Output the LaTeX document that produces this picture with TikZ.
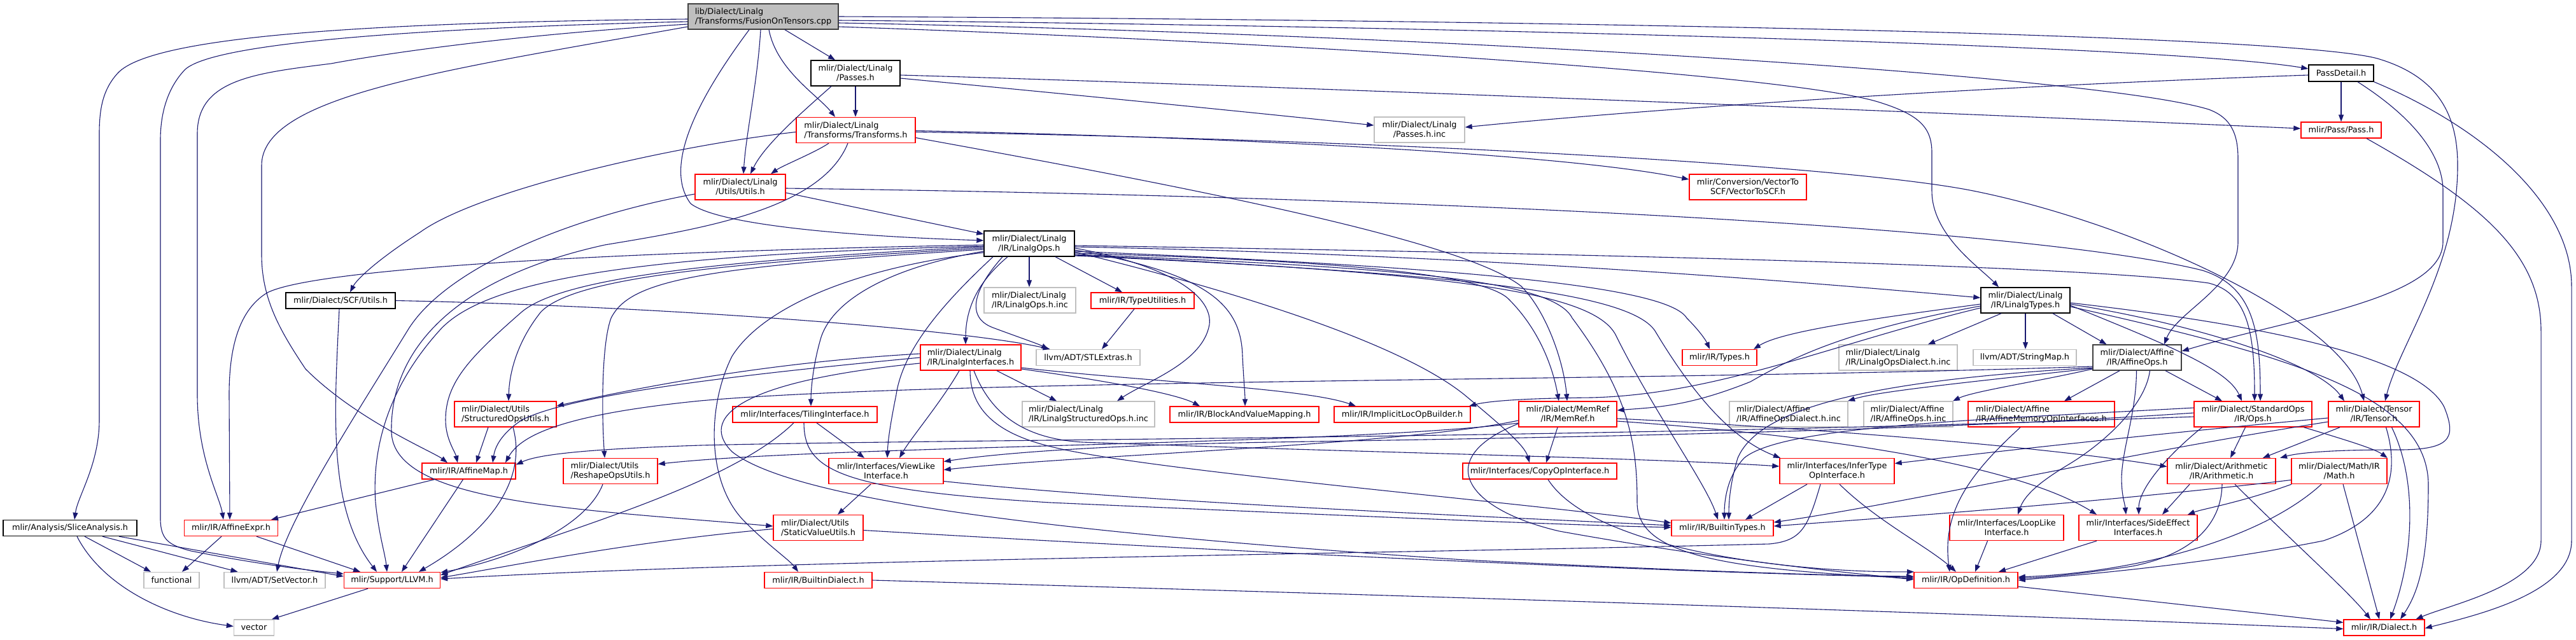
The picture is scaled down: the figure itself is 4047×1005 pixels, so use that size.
\documentclass[tikz,border=0pt]{standalone}
\usepackage{fontspec}
\setmainfont{DejaVu Sans}
\usetikzlibrary{arrows.meta}
\definecolor{edgecol}{HTML}{191970}
\definecolor{extgray}{HTML}{BFBFBF}
\definecolor{rootfill}{HTML}{BFBFBF}
\definecolor{darkbd}{HTML}{404040}
\definecolor{redbd}{HTML}{FF0000}
\newcommand\dv[5]{\draw[e] ([xshift=#2pt]#1.south) .. controls #3 .. ([xshift=#5pt]#4.north);}
\newcommand\ds[4]{\draw[e] ([xshift=#2pt]#1.south) -- ([xshift=#4pt]#3.north);}
\begin{document}
\begin{tikzpicture}[x=1pt,y=-1pt,
  every node/.style={font=\fontsize{12.85}{15}\selectfont, inner sep=0pt, align=center, fill=white, text=black},
  nb/.style={draw=black, line width=1.4pt},
  db/.style={draw=darkbd, line width=1.4pt},
  rb/.style={draw=redbd, line width=1.4pt},
  gb/.style={draw=extgray, line width=1.4pt},
  one/.style={minimum height=25pt},
  two/.style={minimum height=40pt},
  e/.style={draw=edgecol, line width=1.1pt, -{Triangle[length=11pt,width=8pt]}}]
\useasboundingbox (0,0) rectangle (4047,1005);
\fill[white] (0,0) rectangle (4047,1005);

% ---------------- nodes ----------------
\node[db, fill=rootfill, two, minimum width=236pt, align=left] (root) at (1199,26) {lib/Dialect/Linalg\\/Transforms/FusionOnTensors.cpp};
\node[nb, two, minimum width=140pt] (passes) at (1344,115) {mlir/Dialect/Linalg\\/Passes.h};
\node[rb, two, minimum width=187pt, align=left] (transforms) at (1344.5,204.5) {mlir/Dialect/Linalg\\/Transforms/Transforms.h};
\node[rb, two, minimum width=142pt] (lutils) at (1163,294) {mlir/Dialect/Linalg\\/Utils/Utils.h};
\node[nb, two, minimum width=142pt] (linalgops) at (1617,383) {mlir/Dialect/Linalg\\/IR/LinalgOps.h};
\node[gb, two, minimum width=144pt, align=left] (opsinc) at (1618,472) {mlir/Dialect/Linalg\\/IR/LinalgOps.h.inc};
\node[rb, one, minimum width=162pt] (typeutil) at (1795,472.5) {mlir/IR/TypeUtilities.h};
\node[nb, one, minimum width=172pt] (scfutils) at (535,472.5) {mlir/Dialect/SCF/Utils.h};
\node[gb, two, minimum width=142pt] (passesinc) at (2230,204) {mlir/Dialect/Linalg\\/Passes.h.inc};
\node[rb, two, minimum width=184pt] (vectortoscf) at (2746,294) {mlir/Conversion/VectorTo\\SCF/VectorToSCF.h};
\node[nb, one, minimum width=102pt, minimum height=26pt] (passdetail) at (3678,115) {PassDetail.h};
\node[rb, one, minimum width=126pt] (pass) at (3678,204.5) {mlir/Pass/Pass.h};
\node[nb, two, minimum width=140pt] (linalgtypes) at (3182,472) {mlir/Dialect/Linalg\\/IR/LinalgTypes.h};
\node[rb, two, minimum width=160pt, align=left] (structured) at (794,651) {mlir/Dialect/Utils\\/StructuredOpsUtils.h};
\node[rb, one, minimum width=147pt] (affinemap) at (736.5,740.5) {mlir/IR/AffineMap.h};
\node[rb, two, minimum width=148pt, align=left] (reshape) at (959,740.5) {mlir/Dialect/Utils\\/ReshapeOpsUtils.h};
\node[nb, one, minimum width=210pt] (slice) at (110,830) {mlir/Analysis/SliceAnalysis.h};
\node[rb, one, minimum width=147pt] (affineexpr) at (363,830) {mlir/IR/AffineExpr.h};
\node[gb, one, minimum width=87pt] (functional) at (269.5,912) {functional};
\node[gb, one, minimum width=159pt] (setvector) at (431.5,912) {llvm/ADT/SetVector.h};
\node[rb, one, minimum width=151pt] (llvm) at (616,912) {mlir/Support/LLVM.h};
\node[gb, one, minimum width=63pt] (vector) at (399,986.5) {vector};
\node[rb, two, minimum width=158pt, align=left] (li) at (1525,562) {mlir/Dialect/Linalg\\/IR/LinalgInterfaces.h};
\node[gb, one, minimum width=163pt] (stlextras) at (1709.5,562) {llvm/ADT/STLExtras.h};
\node[rb, one, minimum width=227pt] (tiling) at (1264.5,651.5) {mlir/Interfaces/TilingInterface.h};
\node[gb, two, minimum width=208pt, align=left] (structuredinc) at (1710,651) {mlir/Dialect/Linalg\\/IR/LinalgStructuredOps.h.inc};
\node[rb, one, minimum width=234pt] (bvm) at (1955,651.5) {mlir/IR/BlockAndValueMapping.h};
\node[rb, two, minimum width=180pt] (viewlike) at (1392,740.5) {mlir/Interfaces/ViewLike\\Interface.h};
\node[rb, two, minimum width=141pt, align=left] (staticvalue) at (1285.5,829.5) {mlir/Dialect/Utils\\/StaticValueUtils.h};
\node[rb, one, minimum width=169pt] (builtindialect) at (1285.5,912) {mlir/IR/BuiltinDialect.h};
\node[rb, one, minimum width=214pt] (implicitloc) at (2203,651.5) {mlir/IR/ImplicitLocOpBuilder.h};
\node[rb, two, minimum width=154pt] (memref) at (2463,651) {mlir/Dialect/MemRef\\/IR/MemRef.h};
\node[rb, one, minimum width=117pt] (types) at (2701.5,562) {mlir/IR/Types.h};
\node[gb, two, minimum width=186pt, align=left] (opsdialectinc) at (2982,562) {mlir/Dialect/Linalg\\/IR/LinalgOpsDialect.h.inc};
\node[gb, two, minimum width=186pt, align=left] (affopsdialectinc) at (2810,651) {mlir/Dialect/Affine\\/IR/AffineOpsDialect.h.inc};
\node[gb, two, minimum width=140pt, align=left] (affopsinc) at (2998,651) {mlir/Dialect/Affine\\/IR/AffineOps.h.inc};
\node[rb, one, minimum width=242pt] (copyop) at (2419,740.5) {mlir/Interfaces/CopyOpInterface.h};
\node[rb, two, minimum width=180pt] (infertype) at (2886,740.5) {mlir/Interfaces/InferType\\OpInterface.h};
\node[rb, one, minimum width=160pt] (builtintypes) at (2706,830) {mlir/IR/BuiltinTypes.h};
\node[rb, one, minimum width=163pt] (opdef) at (3088.5,912) {mlir/IR/OpDefinition.h};
\node[gb, one, minimum width=162pt] (stringmap) at (3181,562) {llvm/ADT/StringMap.h};
\node[db, two, minimum width=139pt] (affineops) at (3357.5,562) {mlir/Dialect/Affine\\/IR/AffineOps.h};
\node[rb, two, minimum width=230pt, align=left] (affmemop) at (3207,651) {mlir/Dialect/Affine\\/IR/AffineMemoryOpInterfaces.h};
\node[rb, two, minimum width=185pt] (stdops) at (3539.5,651) {mlir/Dialect/StandardOps\\/IR/Ops.h};
\node[rb, two, minimum width=143pt] (tensor) at (3729.5,651) {mlir/Dialect/Tensor\\/IR/Tensor.h};
\node[rb, two, minimum width=170pt] (arith) at (3490,740.5) {mlir/Dialect/Arithmetic\\/IR/Arithmetic.h};
\node[rb, two, minimum width=150pt] (math) at (3675,740.5) {mlir/Dialect/Math/IR\\/Math.h};
\node[rb, two, minimum width=179pt] (looplike) at (3152.5,829.5) {mlir/Interfaces/LoopLike\\Interface.h};
\node[rb, two, minimum width=186pt] (sideeffect) at (3359,829.5) {mlir/Interfaces/SideEffect\\Interfaces.h};
\node[rb, one, minimum width=127pt] (dialect) at (3745.5,986.5) {mlir/IR/Dialect.h};

% ---------------- edges ----------------
% root
\ds{root}{34}{passes}{-32}
\dv{root}{9}{(1220,110) and (1285,150)}{transforms}{-32.5}
\dv{root}{-4}{(1190,130) and (1172,210)}{lutils}{5}
\draw[e] ([xshift=-22pt]root.south) .. controls (1100,150) and (1040,260) .. (1085,320) .. controls (1130,355) and (1350,372) .. ([yshift=5pt]linalgops.west);
\draw[e] ([yshift=-4pt]root.west) .. controls (600,35) and (240,55) .. (185,115) .. controls (162,140) and (156,170) .. (156,210) -- (156,660) .. controls (156,730) and (122,780) .. ([xshift=7pt]slice.north);
\draw[e] ([yshift=-8pt]root.west) .. controls (620,45) and (330,70) .. (290,110) .. controls (262,140) and (252,180) .. (252,220) -- (252,815) .. controls (252,848) and (265,857) .. (300,866) .. controls (400,886) and (480,896) .. ([yshift=10pt]llvm.west);
\draw[e] ([yshift=-12pt]root.west) .. controls (800,55) and (600,85) .. (520,100) .. controls (400,115) and (310,125) .. (310,210) -- (310,620) .. controls (310,720) and (345,780) .. ([xshift=-12pt]affineexpr.north);
\draw[e] ([yshift=-16pt]root.west) .. controls (700,110) and (411,150) .. (411,260) -- (411,400) .. controls (411,470) and (440,520) .. (480,580) .. controls (560,660) and (680,710) .. ([xshift=-33.5pt]affinemap.north);
\draw[e] (root.east) .. controls (2500,32) and (3600,55) .. (3735,92) .. controls (3830,120) and (3861,180) .. (3861,260) .. controls (3861,420) and (3770,540) .. ([xshift=17.5pt]tensor.north);
\draw[e] ([yshift=-6pt]root.east) .. controls (2200,40) and (3400,70) .. ([yshift=7pt]passdetail.west);
\draw[e] ([yshift=-10pt]root.east) .. controls (2300,55) and (3300,120) .. (3470,172) .. controls (3505,185) and (3516,210) .. (3516,250) -- (3516,380) .. controls (3516,450) and (3420,490) .. ([xshift=42.5pt]affineops.north);
\draw[e] ([yshift=-16pt]root.east) .. controls (2000,65) and (2800,115) .. (2950,160) .. controls (3015,180) and (3035,200) .. (3035,240) -- (3035,300) .. controls (3035,370) and (3110,420) .. ([xshift=-42pt]linalgtypes.north);

% passes
\ds{passes}{0}{transforms}{-0.5}
\dv{passes}{-38}{(1250,185) and (1200,230)}{lutils}{16}
\draw[e] ([yshift=-8pt]passes.east) .. controls (1700,150) and (2000,180) .. ([yshift=7pt]passesinc.west);
\draw[e] ([yshift=-3pt]passes.east) .. controls (2000,135) and (3000,175) .. ([yshift=2.5pt]pass.west);

% transforms
\dv{transforms}{-42.5}{(1280,240) and (1230,260)}{lutils}{48}
\draw[e] ([yshift=-3pt]transforms.west) .. controls (1050,230) and (750,300) .. (660,365) .. controls (590,410) and (560,440) .. ([xshift=15pt]scfutils.north);
\draw[e] ([yshift=-1pt]transforms.east) .. controls (1900,215) and (2450,240) .. ([yshift=12pt]vectortoscf.west);
\draw[e] ([yshift=-3pt]transforms.east) .. controls (2200,220) and (2900,260) .. (3100,300) .. controls (3350,350) and (3680,500) .. ([xshift=-15.5pt]tensor.north);
\draw[e] ([yshift=-12pt]transforms.east) .. controls (1900,300) and (2300,380) .. (2390,450) .. controls (2430,490) and (2457,570) .. ([xshift=-1pt]memref.north);
\draw[e] ([xshift=-12.5pt]transforms.south) .. controls (1290,330) and (1100,360) .. (950,385) .. controls (700,440) and (612,560) .. (615,680) .. controls (620,790) and (900,800) .. ([yshift=2.5pt]staticvalue.west);

% linalg utils
\draw[e] ([yshift=-9pt]lutils.east) -- ([yshift=15pt]linalgops.west);
\draw[e] ([yshift=-11pt]lutils.west) .. controls (900,340) and (700,420) .. (640,520) .. controls (560,650) and (450,820) .. ([xshift=3.5pt]setvector.north);
\draw[e] ([yshift=-2pt]lutils.east) .. controls (2300,310) and (3200,360) .. (3460,425) .. controls (3540,450) and (3551,520) .. ([xshift=11.5pt]stdops.north);

% linalgops
\ds{linalgops}{0}{opsinc}{-1}
\ds{linalgops}{41}{typeutil}{-32}
\draw[e] ([yshift=-5pt]linalgops.east) .. controls (2300,400) and (2800,440) .. ([yshift=4pt]linalgtypes.west);
\dv{linalgops}{-34}{(1540,440) and (1517,480)}{li}{-8}
\draw[e] ([xshift=-42pt]linalgops.south) .. controls (1525,460) and (1520,500) .. (1560,515) .. controls (1600,530) and (1630,540) .. ([xshift=-62.5pt]stlextras.north);
\draw[e] ([yshift=-7pt]linalgops.west) .. controls (1100,415) and (900,440) .. (850,490) .. controls (810,540) and (800,590) .. ([xshift=5pt]structured.north);
\draw[e] ([yshift=-9pt]linalgops.west) .. controls (1100,420) and (990,440) .. (960,500) .. controls (945,540) and (945,650) .. ([xshift=-9pt]reshape.north);
\draw[e] ([yshift=-12pt]linalgops.west) .. controls (1400,420) and (1310,470) .. (1290,530) .. controls (1278,570) and (1274,610) .. ([xshift=9.5pt]tiling.north);
\draw[e] ([xshift=-57pt]linalgops.south) .. controls (1500,460) and (1420,540) .. (1408,620) .. controls (1400,660) and (1395,690) .. ([xshift=2pt]viewlike.north);
\draw[e] ([yshift=-2pt]linalgops.west) .. controls (1000,395) and (500,420) .. (420,460) .. controls (370,490) and (360,560) .. (360,620) -- ([xshift=-2pt]affineexpr.north);
\draw[e] ([yshift=-5pt]linalgops.west) .. controls (1100,410) and (880,440) .. (820,490) .. controls (740,560) and (700,600) .. (700,660) .. controls (700,690) and (715,710) .. ([xshift=-17.5pt]affinemap.north);
\draw[e] ([yshift=-4pt]linalgops.west) .. controls (1000,400) and (760,440) .. (690,520) .. controls (600,620) and (585,720) .. (590,790) .. controls (595,840) and (605,870) .. ([xshift=-8pt]llvm.north);
\draw[e] ([yshift=-14pt]linalgops.west) .. controls (1350,420) and (1200,480) .. (1150,560) .. controls (1110,640) and (1110,760) .. (1170,820) .. controls (1210,860) and (1240,880) .. ([xshift=-31.5pt]builtindialect.north);
\draw[e] ([yshift=-7pt]linalgops.east) .. controls (1850,420) and (1905,470) .. (1900,510) .. controls (1890,570) and (1800,600) .. ([xshift=45pt]structuredinc.north);
\draw[e] ([yshift=-10pt]linalgops.east) .. controls (1900,430) and (1950,480) .. (1952,560) .. controls (1954,600) and (1956,620) .. ([xshift=1pt]bvm.north);
\draw[e] ([yshift=-13pt]linalgops.east) .. controls (1950,460) and (2200,540) .. (2300,620) .. controls (2360,670) and (2395,700) .. ([xshift=-16pt]copyop.north);
\draw[e] ([yshift=-15pt]linalgops.east) .. controls (2100,410) and (2330,430) .. (2370,470) .. controls (2420,520) and (2440,580) .. ([xshift=-14pt]memref.north);
\draw[e] ([yshift=-17pt]linalgops.east) .. controls (2200,420) and (2440,440) .. (2470,500) .. controls (2560,620) and (2572,700) .. (2572,790) .. controls (2572,870) and (2700,895) .. ([yshift=3pt]opdef.west);
\draw[e] ([yshift=-18pt]linalgops.east) .. controls (2300,430) and (2510,460) .. (2540,530) .. controls (2600,650) and (2680,760) .. ([xshift=-7pt]builtintypes.north);
\draw[e] ([yshift=-19pt]linalgops.east) .. controls (2300,430) and (2560,460) .. (2600,520) .. controls (2660,620) and (2720,690) .. ([xshift=-89pt]infertype.north);
\draw[e] ([yshift=-12pt]linalgops.east) .. controls (2300,420) and (2620,450) .. (2650,500) .. controls (2670,520) and (2680,535) .. ([xshift=-15.5pt]types.north);
\draw[e] ([yshift=-3pt]linalgops.east) .. controls (2600,400) and (3300,420) .. (3470,445) .. controls (3530,460) and (3542,520) .. ([xshift=2.5pt]stdops.north);

% linalg interfaces
\draw[e] ([yshift=6pt]li.west) .. controls (1200,570) and (1000,610) .. ([yshift=13pt]structured.east);
\draw[e] (li.west) .. controls (1150,590) and (900,620) .. (820,660) .. controls (790,680) and (778,700) .. ([xshift=37.5pt]affinemap.north);
\draw[e] ([xshift=-18pt]li.south) .. controls (1480,630) and (1430,690) .. ([xshift=21pt]viewlike.north);
\draw[e] ([xshift=-1pt]li.south) .. controls (1524,640) and (1560,680) .. (1651,702) .. controls (1800,740) and (2400,790) .. ([yshift=8pt]builtintypes.west);
\draw[e] ([xshift=5pt]li.south) .. controls (1560,660) and (1620,690) .. (1700,695) .. controls (2100,710) and (2600,720) .. ([yshift=7.5pt]infertype.west);
\ds{li}{41}{structuredinc}{-50}
\draw[e] ([yshift=-18pt]li.east) .. controls (1750,600) and (1850,620) .. ([xshift=-70pt]bvm.north);
\draw[e] ([yshift=-16pt]li.east) .. controls (1800,600) and (2050,610) .. ([xshift=-73pt]implicitloc.north);
\draw[e] ([yshift=-9pt]li.west) .. controls (1150,600) and (1100,660) .. (1150,710) .. controls (1250,790) and (1700,840) .. (2300,880) .. controls (2700,900) and (2900,905) .. ([yshift=6pt]opdef.west);

% misc upper
\ds{typeutil}{-13}{stlextras}{21.5}
\draw[e] (scfutils.east) .. controls (1000,480) and (1500,515) .. ([xshift=-60pt]stlextras.north);
\dv{scfutils}{-2}{(525,650) and (515,800)}{llvm}{-24}

% tiling / viewlike / static
\ds{tiling}{18.5}{viewlike}{-34}
\draw[e] ([xshift=-17.5pt]tiling.south) .. controls (1150,760) and (900,830) .. ([yshift=8pt]llvm.east);
\draw[e] ([xshift=-1.5pt]tiling.south) .. controls (1263,740) and (1320,770) .. (1650,790) .. controls (2100,810) and (2450,825) .. ([yshift=1pt]builtintypes.west);
\ds{viewlike}{-24}{staticvalue}{30.5}
\draw[e] ([yshift=-16pt]viewlike.east) .. controls (1800,790) and (2300,810) .. ([yshift=4pt]builtintypes.west);
\draw[e] ([yshift=-2pt]staticvalue.west) .. controls (1000,850) and (800,890) .. ([yshift=4pt]llvm.east);
\draw[e] ([yshift=-4pt]staticvalue.east) .. controls (1800,860) and (2600,900) .. ([yshift=5pt]opdef.west);
\draw[e] (builtindialect.east) .. controls (2000,930) and (3000,960) .. ([yshift=-2pt]dialect.west);

% left cluster
\ds{structured}{-27}{affinemap}{11.5}
\dv{structured}{12}{(830,760) and (760,840)}{llvm}{42}
\ds{affinemap}{-54}{affineexpr}{63}
\ds{affinemap}{-9}{llvm}{15}
\draw[e] ([xshift=-12pt]reshape.south) .. controls (920,830) and (800,880) .. ([yshift=12pt]llvm.east);
\ds{slice}{23}{functional}{-32.5}
\ds{slice}{51}{setvector}{-58}
\draw[e] ([xshift=77pt]slice.south) -- ([yshift=6pt]llvm.west);
\draw[e] ([xshift=11pt]slice.south) .. controls (160,920) and (260,970) .. ([yshift=2pt]vector.west);
\ds{affineexpr}{-15}{functional}{16.5}
\ds{affineexpr}{40}{llvm}{-50}
\ds{llvm}{-38}{vector}{28}

% linalg types
\ds{linalgtypes}{-38}{opsdialectinc}{47}
\ds{linalgtypes}{0}{stringmap}{1}
\ds{linalgtypes}{43}{affineops}{-48}
\draw[e] ([yshift=-6pt]linalgtypes.west) .. controls (2950,500) and (2800,520) .. ([xshift=53.5pt]types.north);
\draw[e] ([yshift=-9pt]linalgtypes.west) .. controls (2900,520) and (2820,560) .. (2750,600) .. controls (2650,640) and (2600,640) .. ([yshift=6pt]memref.east);
\draw[e] ([yshift=-12pt]linalgtypes.west) .. controls (2880,540) and (2700,620) .. (2500,625) .. controls (2400,626) and (2340,630) .. ([xshift=105pt]implicitloc.north);
\draw[e] ([yshift=-8pt]linalgtypes.east) .. controls (3400,540) and (3500,580) .. ([xshift=-17.5pt]stdops.north);
\draw[e] ([yshift=-6pt]linalgtypes.east) .. controls (3450,510) and (3640,570) .. ([xshift=-46.5pt]tensor.north);
\draw[e] ([yshift=-4pt]linalgtypes.east) .. controls (3550,510) and (3800,560) .. (3840,640) .. controls (3860,690) and (3850,708) .. (3760,707) .. controls (3660,707) and (3610,712) .. ([xshift=92pt]arith.north);
\draw[e] ([yshift=-10pt]linalgtypes.east) .. controls (3600,560) and (3812,620) .. (3815,760) .. controls (3815,880) and (3800,930) .. ([xshift=25.5pt]dialect.north);

% affine ops
\draw[e] ([yshift=-17pt]affineops.west) .. controls (3100,600) and (2950,615) .. ([xshift=93pt]affopsdialectinc.north);
\draw[e] ([yshift=-18pt]affineops.west) .. controls (3200,600) and (3100,615) .. ([xshift=70pt]affopsinc.north);
\ds{affineops}{-27.5}{affmemop}{36}
\ds{affineops}{44.5}{stdops}{-48.5}
\draw[e] ([xshift=-1pt]affineops.south) .. controls (3356,650) and (3335,700) .. (3333,750) .. controls (3333,780) and (3338,790) .. ([xshift=-19pt]sideeffect.north);
\draw[e] ([xshift=20pt]affineops.south) .. controls (3370,640) and (3300,700) .. (3250,730) .. controls (3200,760) and (3180,780) .. ([xshift=17.5pt]looplike.north);
\draw[e] ([yshift=-14pt]affineops.west) .. controls (2600,600) and (1500,595) .. (1100,630) .. controls (900,650) and (820,680) .. ([xshift=57.5pt]affinemap.north);
\draw[e] ([yshift=-16pt]affineops.west) .. controls (2900,600) and (2760,650) .. (2730,720) .. controls (2718,760) and (2716,790) .. ([xshift=10pt]builtintypes.north);

% affine memory op / std ops
\dv{affmemop}{-33}{(3100,740) and (3050,800)}{opdef}{-25.5}
\ds{stdops}{-12}{arith}{14}
\dv{stdops}{-80}{(3400,720) and (3360,770)}{sideeffect}{1}
\draw[e] ([xshift=80pt]stdops.south) .. controls (3680,690) and (3730,705) .. (math.north east);
\draw[e] ([yshift=2pt]stdops.west) .. controls (3000,680) and (2300,690) .. (2000,695) .. controls (1700,700) and (1550,715) .. ([yshift=15pt]viewlike.east);
\draw[e] ([yshift=-4pt]stdops.west) .. controls (2500,690) and (1500,690) .. (1100,700) .. controls (950,705) and (850,712) .. ([yshift=10pt]affinemap.east);
\draw[e] ([yshift=10pt]stdops.west) .. controls (3100,660) and (2800,670) .. (2740,720) .. controls (2712,750) and (2709,790) .. ([xshift=3pt]builtintypes.north);

% tensor
\ds{tensor}{-53.5}{arith}{65}
\draw[e] ([yshift=-6pt]tensor.west) .. controls (3300,690) and (3050,720) .. ([yshift=12pt]infertype.east);
\draw[e] ([yshift=-12pt]tensor.west) .. controls (3300,720) and (3000,790) .. ([yshift=9pt]builtintypes.east);
\draw[e] ([xshift=28pt]tensor.south) .. controls (3800,760) and (3790,880) .. ([xshift=9.5pt]dialect.north);
\draw[e] ([xshift=19pt]tensor.south) .. controls (3775,760) and (3740,820) .. (3650,850) .. controls (3450,890) and (3250,905) .. (opdef.east);

% arith / math
\ds{arith}{-50}{sideeffect}{38}
\draw[e] ([xshift=1pt]arith.south) .. controls (3490,820) and (3450,870) .. (3350,890) .. controls (3250,905) and (3200,908) .. ([yshift=3pt]opdef.east);
\dv{arith}{21}{(3600,850) and (3690,930)}{dialect}{-21.5}
\dv{math}{-75}{(3520,790) and (3460,800)}{sideeffect}{78}
\draw[e] ([xshift=-28pt]math.south) .. controls (3550,850) and (3350,900) .. ([yshift=5pt]opdef.east);
\ds{math}{6}{dialect}{-7.5}
\draw[e] ([yshift=-14pt]math.west) .. controls (3300,790) and (2950,815) .. ([yshift=3pt]builtintypes.east);

% memref
\ds{memref}{-16}{copyop}{10}
\draw[e] ([yshift=-7pt]memref.east) .. controls (2800,670) and (3200,700) .. ([yshift=7pt]arith.west);
\draw[e] ([yshift=-11pt]memref.east) .. controls (2800,680) and (3150,720) .. ([xshift=-65pt]sideeffect.north);
\draw[e] ([yshift=-15pt]memref.west) .. controls (2250,720) and (2300,800) .. (2450,835) .. controls (2700,880) and (2900,900) .. ([yshift=1pt]opdef.west);
\draw[e] ([yshift=-10pt]memref.west) .. controls (2200,700) and (1700,715) .. ([yshift=2pt]viewlike.east);
\draw[e] ([yshift=-14pt]memref.west) .. controls (2100,700) and (1300,700) .. ([yshift=11pt]reshape.east);

% lower interfaces
\dv{copyop}{13}{(2500,860) and (2800,900)}{opdef}{-81.5}
\ds{infertype}{-47}{builtintypes}{36}
\dv{infertype}{4}{(2950,820) and (3030,860)}{opdef}{-15.5}
\draw[e] ([xshift=-26pt]infertype.south) .. controls (2840,830) and (2830,850) .. (2780,855) .. controls (2200,870) and (1200,880) .. ([yshift=2pt]llvm.east);
\ds{looplike}{-30}{opdef}{14.5}
\ds{sideeffect}{-65}{opdef}{51.5}
\draw[e] ([yshift=-10pt]opdef.east) -- ([yshift=8pt]dialect.west);

% pass detail / pass
\ds{passdetail}{0}{pass}{0}
\draw[e] ([yshift=-3pt]passdetail.west) .. controls (3000,140) and (2500,180) .. ([yshift=4pt]passesinc.east);
\draw[e] ([xshift=26pt]passdetail.south) .. controls (3800,190) and (3838,250) .. (3838,300) -- (3838,380) .. controls (3838,470) and (3600,500) .. ([yshift=10pt]affineops.east);
\draw[e] (passdetail.south east) .. controls (3900,200) and (4040,320) .. (4040,450) -- (4040,850) .. controls (4040,930) and (3900,965) .. ([yshift=-1pt]dialect.east);
\draw[e] ([xshift=40pt]pass.south) .. controls (3900,320) and (3992,400) .. (3992,520) -- (3992,850) .. controls (3992,920) and (3850,950) .. ([xshift=50pt]dialect.north);

\end{tikzpicture}
\end{document}
